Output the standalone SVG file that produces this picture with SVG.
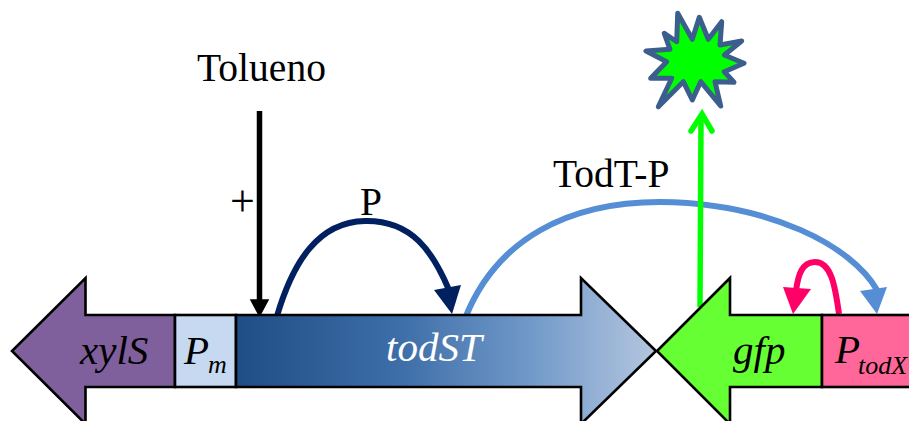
<svg xmlns="http://www.w3.org/2000/svg" width="909" height="421" viewBox="0 0 909 421">
<style>
text{font-family:"Liberation Serif","Times New Roman",serif;fill:#000}
.l{font-size:39.5px}
.g{font-size:41px;font-style:italic}
.s{font-size:26px;font-style:italic}
.b{stroke:#000;stroke-width:2.6;stroke-linejoin:miter}
.c{fill:none;stroke-width:6}
</style>
<defs>
<linearGradient id="grad" gradientUnits="userSpaceOnUse" x1="236" y1="0" x2="656" y2="0">
<stop offset="0" stop-color="#1f4d85"/><stop offset=".4" stop-color="#3f6fa9"/><stop offset=".7" stop-color="#7199c9"/><stop offset="1" stop-color="#b4c6df"/>
</linearGradient>
</defs>
<rect width="909" height="421" fill="#fff"/>
<g id="connectors">
<path d="M259.500 111V300" stroke="#000" stroke-width="5.500" fill="none"/>
<path d="M251 300H268L259.500 316Z" fill="#000" stroke="#000" stroke-width="1.500"/>
<path class="c" d="M277 316C293 262 318 222 365 221C412 220 433 252 449 290" stroke="#002060"/>
<path d="M434 290L461 285L452 314Z" fill="#002060"/>
<path class="c" d="M466 316C497 240 567 202 660 202C770 203 852 246 877 290" stroke="#558ed5"/>
<path d="M860 291L887 287L877 314Z" fill="#558ed5"/>
<path d="M700 307L701 120" fill="none" stroke="#00ff00" stroke-width="5.500"/>
<path d="M691 131L702 114L712 131" fill="none" stroke="#00ff00" stroke-width="5.500" stroke-linecap="round"/>
<path d="M839 314C835 285 831 262 815 262C802 262 798 275 796 291" fill="none" stroke="#ff0066" stroke-width="6"/>
<path d="M783 287L811 289L793 314Z" fill="#ff0066"/>
</g>
<g id="burst">
<path d="M677.700 13.300L692.300 39.300L699.300 17.300L708.300 39.300L721.700 21.700L720 45L741.700 41L724.300 55L744 63.300L724.300 71.700L734 82.300L715 81.700L720.700 106L700.700 81.700L692.300 100L683.300 81.700L658.300 106.700L671.700 78.300L650.700 78.300L666.700 61.700L646 51L670 49.300L664.300 33.300L676.700 41.700Z" fill="#00ff00" stroke="#3b5e8c" stroke-width="5" stroke-linejoin="round"/>
</g>
<g id="xylS">
<path class="b" d="M175 315H85.500V278L12 351L85.500 424V387H175Z" fill="#7f609c"/>
<text class="g" x="80" y="364">xylS</text>
</g>
<g id="Pm">
<rect class="b" x="175" y="315" width="61" height="72" fill="#c6d9f1"/>
<text class="g" x="184" y="364">P</text>
<text class="s" x="208" y="373">m</text>
</g>
<g id="todST">
<path class="b" d="M236 315H581V278L656 351L581 424V387H236Z" fill="url(#grad)"/>
<text class="g" x="386" y="361" style="fill:#fff">todST</text>
</g>
<g id="gfp">
<path class="b" d="M822 315H730V278L657 351L730 424V387H822Z" fill="#66ff33"/>
<text class="g" x="733" y="364">gfp</text>
</g>
<g id="PtodX">
<rect class="b" x="822" y="315" width="90" height="72" fill="#ff6699"/>
<text class="g" x="835" y="363">P</text>
<text class="s" x="858" y="374">todX</text>
</g>
<text class="l" x="197" y="81">Tolueno</text>
<text class="l" x="230" y="216" style="font-size:44px">+</text>
<text class="l" x="360" y="215">P</text>
<text class="l" x="553" y="187">TodT-P</text>
</svg>
